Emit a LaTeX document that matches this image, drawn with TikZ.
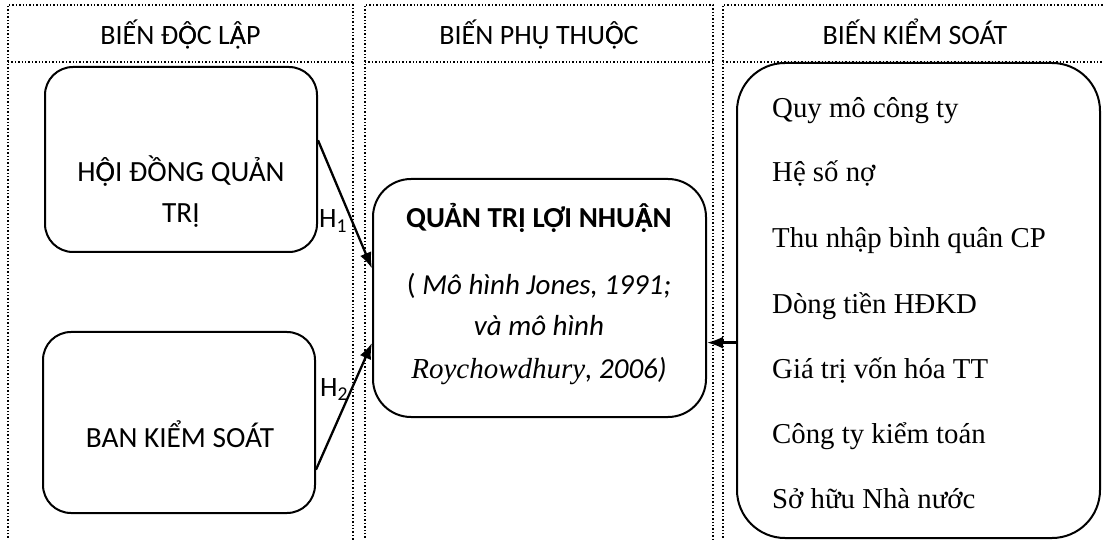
\documentclass[tikz,border=0pt]{standalone}
\usepackage{fontspec}
\setmainfont{Carlito}
\newfontfamily\tnr{Liberation Serif}
\usetikzlibrary{arrows.meta}
\newcommand\Ocd{\makebox[0pt][l]{Ọ}Ô}
\newcommand\Acd{\makebox[0pt][l]{Ạ}Â}
\begin{document}
\begin{tikzpicture}[x=1pt,y=-1pt,
  col/.style={draw, dotted, line width=1.4pt},
  box/.style={draw, line width=2pt, rounded corners=28pt, inner sep=0pt},
  hdr/.style={font=\fontsize{28}{34}\selectfont, anchor=base, inner sep=0pt},
  btx/.style={font=\fontsize{29.3}{35}\selectfont, anchor=base, inner sep=0pt},
  mtx/.style={font=\fontsize{29}{35}\selectfont, anchor=base, inner sep=0pt},
  lst/.style={font=\tnr\fontsize{28.8}{34}\selectfont, anchor=base west, inner sep=0pt},
  lbl/.style={font=\fontsize{28}{34}\selectfont, anchor=base west, inner sep=0pt},
  arr/.style={line width=2.3pt, -{Latex[length=16pt,width=12pt]}},
]
\useasboundingbox (0,0) rectangle (1104,540);
\clip (0,0) rectangle (1104,540);
% columns
\draw[col] (8,548) -- (8,5) -- (353,5) -- (353,548);
\draw[col] (8,62) -- (353,62);
\draw[col] (365,548) -- (365,5) -- (713,5) -- (713,548);
\draw[col] (365,62) -- (713,62);
\draw[col] (723,548) -- (723,5) -- (1110,5);
\draw[col] (723,62) -- (1110,62);
% headers
\node[hdr] (hA) at (180.5,45) {BIẾN Đ\Ocd C L\Acd P};
\node[hdr] (hB) at (539,45) {BIẾN PHỤ THU\Ocd C};
\node[hdr] (hC) at (915,45) {BIẾN KIỂM SOÁT};
% boxes
\node[box, minimum width=272pt, minimum height=185pt] (hdqt) at (181,159.5) {};
\node[box, minimum width=272pt, minimum height=181pt] (bks) at (179,422.5) {};
\node[box, rounded corners=38pt, minimum width=333pt, minimum height=238pt] (mid) at (539.5,298) {};
\node[box, rounded corners=48pt, minimum width=363pt, minimum height=475pt] (ctl) at (918.5,300.5) {};
% box texts
\node[btx] (t1) at (181,182) {H\Ocd I ĐỒNG QUẢN};
\node[btx] (t2) at (181,223) {TRỊ};
\node[btx] (t3) at (180,447) {BAN KIỂM SOÁT};
\node[mtx, font=\fontsize{29}{35}\selectfont\bfseries] (m1) at (539,228) {QUẢN TRỊ LỢI NHU\Acd N};
\node[mtx] (m2) at (539,295) {( \textit{Mô hình Jones, 1991;}};
\node[mtx] (m3) at (539,335) {\textit{và mô hình}};
\node[mtx] (m4) at (539,378) {\textit{{\tnr Roychowdhury}, 2006)}};
% list
\node[lst] (c1) at (772,118) {Quy mô công ty};
\node[lst] (c2) at (772,182) {Hệ số nợ};
\node[lst] (c3) at (772,248) {Thu nhập bình quân CP};
\node[lst] (c4) at (772,313) {Dòng tiền HĐKD};
\node[lst] (c5) at (772,378) {Giá trị vốn hóa TT};
\node[lst] (c6) at (772,443) {Công ty kiểm toán};
\node[lst] (c7) at (772,508) {Sở hữu Nhà nước};
% arrows
\draw[arr] (hdqt.8.2) -- (mid.170.5);
\draw[arr] (bks.-19.3) -- (mid.195.8);
\draw[arr] (ctl.193.2) -- (mid.east |- ctl.193.2);
% labels
\node[lbl] (l1) at (319,228) {H\textsubscript{1}};
\node[lbl] (l2) at (320,396) {H\textsubscript{2}};
\end{tikzpicture}
\end{document}
